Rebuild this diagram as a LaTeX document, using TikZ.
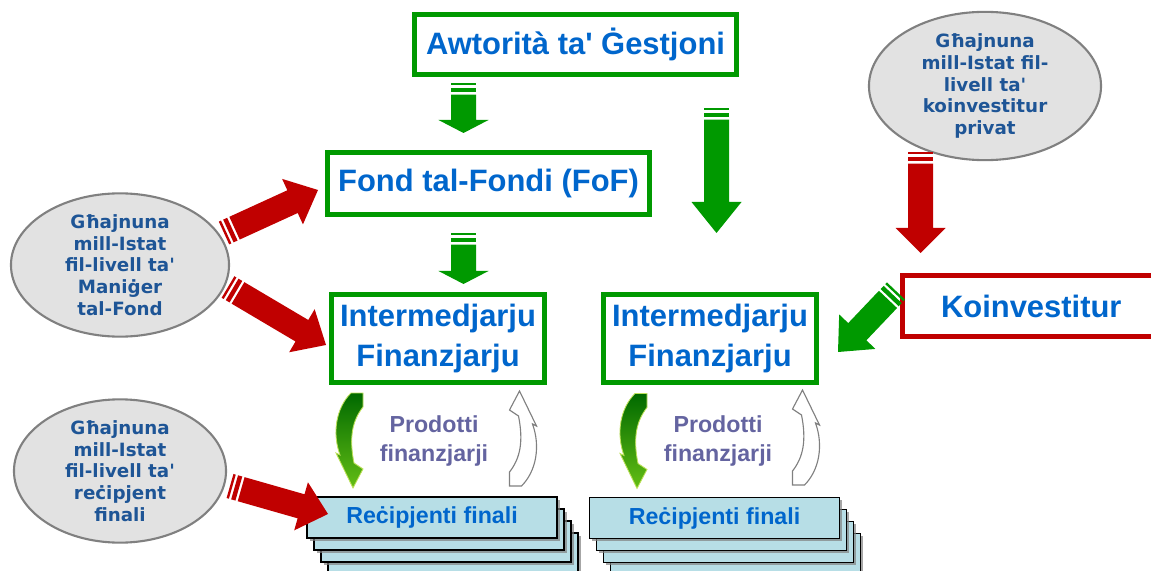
\documentclass[tikz,border=0pt]{standalone}
\usepackage{fontspec}
\setmainfont{Liberation Sans}[Ligatures=TeXOff]
\newfontfamily\ellfont{DejaVu Sans}[Ligatures=TeXOff]
\usepackage{tikz}
\usetikzlibrary{calc,shapes.geometric,shadows}

\definecolor{boxgreen}{RGB}{0,153,0}
\definecolor{arrgreen}{RGB}{0,153,0}
\definecolor{arrred}{RGB}{192,0,0}
\definecolor{textblue}{RGB}{0,102,204}
\definecolor{elltext}{RGB}{30,85,150}
\definecolor{ellfill}{RGB}{226,226,226}
\definecolor{ellline}{RGB}{128,128,128}
\definecolor{prodtext}{RGB}{100,100,160}
\definecolor{cardblue}{RGB}{183,222,230}
\definecolor{curlydark}{RGB}{0,105,0}
\definecolor{curlylight}{RGB}{100,190,20}
\definecolor{curlyedge}{RGB}{190,225,90}

% block arrow with two stripes at the tail: colour, tail, tip, head length
\newcommand{\stripearrow}[4]{%
  \path (#2) coordinate (sa-s) (#3) coordinate (sa-e);
  \coordinate (sa-n) at ($(sa-e)!#4!(sa-s)$);
  \foreach \ta/\tb in {0cm/0.06cm, 0.12cm/0.23cm} {
    \coordinate (sa-a) at ($(sa-s)!\ta!(sa-e)$);
    \coordinate (sa-b) at ($(sa-s)!\tb!(sa-e)$);
    \fill[#1] ($(sa-a)!0.3125cm!90:(sa-e)$) -- ($(sa-b)!0.3125cm!90:(sa-e)$)
      -- ($(sa-b)!0.3125cm!-90:(sa-e)$) -- ($(sa-a)!0.3125cm!-90:(sa-e)$) -- cycle;
  }
  \coordinate (sa-c) at ($(sa-s)!0.29cm!(sa-e)$);
  \fill[#1] ($(sa-c)!0.3125cm!90:(sa-e)$) -- ($(sa-n)!0.3125cm!90:(sa-e)$)
    -- ($(sa-n)!0.625cm!90:(sa-e)$) -- (sa-e)
    -- ($(sa-n)!0.625cm!-90:(sa-e)$) -- ($(sa-n)!0.3125cm!-90:(sa-e)$)
    -- ($(sa-c)!0.3125cm!-90:(sa-e)$) -- cycle;
}

\begin{document}
\begin{tikzpicture}[x=0.025cm, y=-0.025cm,
    box/.style={draw=boxgreen, line width=0.1125cm, fill=white, text=textblue,
      font=\bfseries\fontsize{22}{28}\selectfont, align=center, inner sep=0pt},
    ell/.style={ellipse, draw=ellline, line width=1.5pt, fill=ellfill, text=elltext,
      font=\ellfont\bfseries\fontsize{13}{15.5}\selectfont, align=center, inner sep=0pt},
    card/.style={draw=black, line width=1.1pt, fill=cardblue, inner sep=0pt,
      minimum width=6.25cm, minimum height=1.025cm, text=textblue,
      drop shadow={shadow xshift=0.07cm, shadow yshift=-0.07cm, opacity=0.7},
      font=\bfseries\fontsize{16.5}{20}\selectfont},
    prod/.style={text=prodtext, font=\bfseries\fontsize{16.5}{20}\selectfont, align=center},
    curly/.pic={
      \path[pic actions] (3.5,-47.5) -- (15.5,-47.5) -- (15.5,-33.5)
        .. controls (4.5,-19.5) and (1.5,-2.5) .. (6.5,22.5)
        -- (15.5,28.5) -- (5.5,47.5) -- (-11.5,12.5) -- (-7.5,14.5)
        .. controls (-15.5,-7.5) and (-11.5,-32.5) .. (3.5,-47.5) -- cycle;
    }]
    \useasboundingbox (0,0) rectangle (1151,571);

    \node[box, minimum width=8.05cm, minimum height=1.5cm] (awt) at (575.5,44.5) {Awtorità ta' Ġestjoni};
    \node[box, minimum width=8.05cm, minimum height=1.55cm] (fof) at (488.5,183.5) {Fond tal-Fondi (FoF)};
    \node[box, minimum width=5.325cm, minimum height=2.2cm] (imL) at (438,338.5) {Intermedjarju\\Finanzjarju};
    \node[box, minimum width=5.325cm, minimum height=2.2cm] (imR) at (710,338.5) {Intermedjarju\\Finanzjarju};
    \node[box, draw=arrred, minimum width=6.44cm, minimum height=1.525cm] (koi) at (1031.25,306) {Koinvestitur};

    \node[ell, minimum width=5.8cm, minimum height=3.35cm] (ellKoi) at (985,86)
      {Għajnuna\\mill-Istat fil-\\livell ta'\\koinvestitur\\privat};
    \node[ell, minimum width=5.45cm, minimum height=3.55cm] (ellFond) at (120,265)
      {Għajnuna\\mill-Istat\\fil-livell ta'\\Maniġer\\tal-Fond};
    \node[ell, minimum width=5.3cm, minimum height=3.25cm] (ellRec) at (120,471)
      {Għajnuna\\mill-Istat\\fil-livell ta'\\reċipjent\\finali};

    % stacked final recipients
    \foreach \k in {3,2,1} {
      \node[card] (recL\k) at (432+7*\k,517.5+12*\k) {};
      \node[card] (recR\k) at (714.5+7*\k,518+12*\k) {};
    }
    \node[card] (recL) at (432,517.5) {Reċipjenti finali};
    \node[card] (recR) at (714.5,518) {Reċipjenti finali};

    \node[prod] (prodL) at (434,441) {Prodotti\\finanzjarji};
    \node[prod] (prodR) at (718,441) {Prodotti\\finanzjarji};

    \pic[top color=curlydark, bottom color=curlylight, draw=curlyedge, line width=0.6pt] (curlyL) at (347.5,440.5) {curly};
    \pic[top color=curlydark, bottom color=curlylight, draw=curlyedge, line width=0.6pt] (curlyR) at (631.5,441) {curly};
    \pic[rotate=180, fill=white, draw=ellline, line width=0.8pt] (backL) at (525,438.5) {curly};
    \pic[rotate=180, fill=white, draw=ellline, line width=0.8pt] (backR) at (808,437.5) {curly};

    % arrow ends
    \coordinate (awtOut) at (463.5,83);   \coordinate (fofIn) at (463.5,133);
    \coordinate (fofOut) at (463.5,233);  \coordinate (imLIn) at (463.5,284);
    \coordinate (awtSide) at (716.5,108); \coordinate (imRTop) at (716.5,233);
    \coordinate (ellKoiOut) at (920.5,152); \coordinate (koiIn) at (920.5,253);
    \coordinate (koiOut) at (896,291);    \coordinate (imRIn) at (838,352);
    \coordinate (ellFondUp) at (224,233); \coordinate (fofLeft) at (318,190);
    \coordinate (ellFondDn) at (228,287); \coordinate (imLLeft) at (326,345);
    \coordinate (ellRecOut) at (230,486); \coordinate (recLIn) at (328,514);

    \stripearrow{arrgreen}{awtOut}{fofIn}{0.325cm}
    \stripearrow{arrgreen}{fofOut}{imLIn}{0.325cm}
    \stripearrow{arrgreen}{awtSide}{imRTop}{0.775cm}
    \stripearrow{arrred}{ellKoiOut}{koiIn}{0.625cm}
    \stripearrow{arrgreen}{koiOut}{imRIn}{0.7cm}
    \stripearrow{arrred}{ellFondUp}{fofLeft}{0.7cm}
    \stripearrow{arrred}{ellFondDn}{imLLeft}{0.7cm}
    \stripearrow{arrred}{ellRecOut}{recLIn}{0.7cm}
\end{tikzpicture}
\end{document}
